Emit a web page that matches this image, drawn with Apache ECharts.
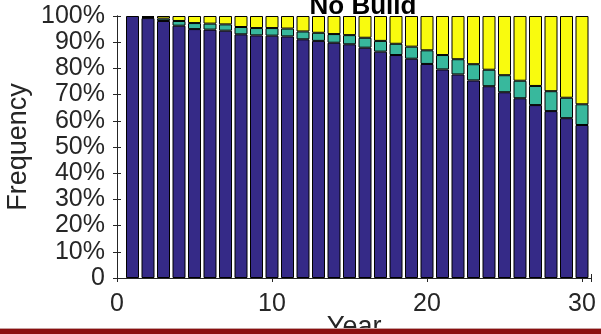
<!DOCTYPE html>
<html>
<head>
<meta charset="utf-8">
<script src="https://cdn.jsdelivr.net/npm/echarts@6/dist/echarts.min.js"></script>
<style>html,body{margin:0;padding:0;background:#fff;}#c{width:601px;height:334px;}</style>
</head>
<body>
<div id="c"></div>
<script>
const years = [1,2,3,4,5,6,7,8,9,10,11,12,13,14,15,16,17,18,19,20,21,22,23,24,25,26,27,28,29,30];
const blueVals = [100, 99.2, 98.1, 96.3, 95.0, 94.8, 94.4, 93.0, 92.6, 92.5, 92.2, 91.1, 90.5, 89.8, 89.2, 87.9, 86.4, 85.1, 83.7, 81.7, 79.6, 77.7, 75.4, 73.2, 70.9, 68.6, 66.0, 63.7, 61.0, 58.4];
const tealVals = [0, 0.4, 0.9, 1.8, 2.3, 2.3, 2.4, 2.8, 2.8, 2.9, 3.0, 3.0, 3.1, 3.3, 3.5, 3.8, 4.1, 4.3, 4.6, 5.2, 5.5, 5.8, 6.2, 6.3, 6.5, 6.7, 7.3, 7.6, 7.8, 7.9];
const yellowVals = [0, 0.4, 1.0, 1.9, 2.7, 2.9, 3.2, 4.2, 4.6, 4.6, 4.8, 5.9, 6.4, 6.9, 7.3, 8.3, 9.5, 10.6, 11.7, 13.1, 14.9, 16.5, 18.4, 20.5, 22.6, 24.7, 26.7, 28.7, 31.2, 33.7];
const xTicks = [0, 10, 20, 30];
const xMax = 30.6;

const FONT = 'Liberation Sans, Arial, Helvetica, sans-serif';
const INK = '#262626';
const chart = echarts.init(document.getElementById('c'), null, {renderer: 'canvas'});

// category axis covering year 0..30 (bars at 1..30)
const cats = [0].concat(years).map(String);
function mk(name, vals, color) {
  return {
    name: name, type: 'bar', stack: 'total', barWidth: 13,
    xAxisIndex: 0, yAxisIndex: 0,
    data: [null].concat(vals.map(v => v === 0 ? null : v)),
    itemStyle: {color: color, borderColor: '#000', borderWidth: 1},
    emphasis: {disabled: true}, animation: false
  };
}
const tickCommon = {show: true, inside: true, length: 4, lineStyle: {color: INK, width: 1}};
const plotLeft = 117, plotTop = 16, plotBottom = 56, unitPx = 15.5;
chart.setOption({
  animation: false,
  backgroundColor: '#fff',
  title: {
    text: 'No Build', left: 358, top: -11, textAlign: 'center',
    textStyle: {fontFamily: FONT, fontSize: 26, fontWeight: 'bold', color: '#000'}
  },
  grid: [
    {left: plotLeft, width: unitPx * 30, top: plotTop, bottom: plotBottom, containLabel: false, outerBoundsMode: 'none'},
    {left: plotLeft, width: unitPx * xMax, top: plotTop, bottom: plotBottom, containLabel: false, outerBoundsMode: 'none'}
  ],
  xAxis: [{
    gridIndex: 0, type: 'category', data: cats, boundaryGap: false, show: false
  }, {
    gridIndex: 1, type: 'value', min: 0, max: xMax, interval: 10,
    name: 'Year', nameLocation: 'middle', nameGap: 36, nameMoveOverlap: false,
    nameTextStyle: {fontFamily: FONT, fontSize: 27, color: INK},
    axisLine: {show: true, lineStyle: {color: INK, width: 1}},
    axisTick: tickCommon,
    axisLabel: {fontFamily: FONT, fontSize: 25, color: INK, margin: 14,
      formatter: v => xTicks.indexOf(v) >= 0 ? String(v) : ''},
    splitLine: {show: false}
  }, {
    gridIndex: 1, type: 'value', min: 0, max: xMax, interval: 10, position: 'top',
    axisLine: {show: true, lineStyle: {color: INK, width: 1}},
    axisTick: tickCommon, axisLabel: {show: false}, splitLine: {show: false}
  }],
  yAxis: [{
    gridIndex: 0, type: 'value', min: 0, max: 100, show: false
  }, {
    gridIndex: 1, type: 'value', min: 0, max: 100, interval: 10,
    name: 'Frequency', nameLocation: 'middle', nameGap: 85, nameRotate: 90, nameMoveOverlap: false,
    nameTextStyle: {fontFamily: FONT, fontSize: 27, color: INK},
    axisLine: {show: true, lineStyle: {color: INK, width: 1}},
    axisTick: tickCommon,
    axisLabel: {fontFamily: FONT, fontSize: 25, color: INK, margin: 12,
      formatter: v => v === 0 ? '0' : v + '%'},
    splitLine: {show: false}
  }, {
    gridIndex: 1, type: 'value', min: 0, max: 100, interval: 10, position: 'right',
    axisLine: {show: true, lineStyle: {color: INK, width: 1}},
    axisTick: tickCommon, axisLabel: {show: false}, splitLine: {show: false}
  }],
  series: [
    mk('A', blueVals, '#352a87'),
    mk('B', tealVals, '#38b89d'),
    mk('C', yellowVals, '#f9fb0e')
  ],
  graphic: [
    {type: 'rect', shape: {x: 0, y: 328, width: 601, height: 1}, style: {fill: '#c8a0a0'}, z: 100},
    {type: 'rect', shape: {x: 0, y: 329, width: 601, height: 5}, style: {fill: '#8a0f0f'}, z: 100}
  ]
});
</script>
</body>
</html>
